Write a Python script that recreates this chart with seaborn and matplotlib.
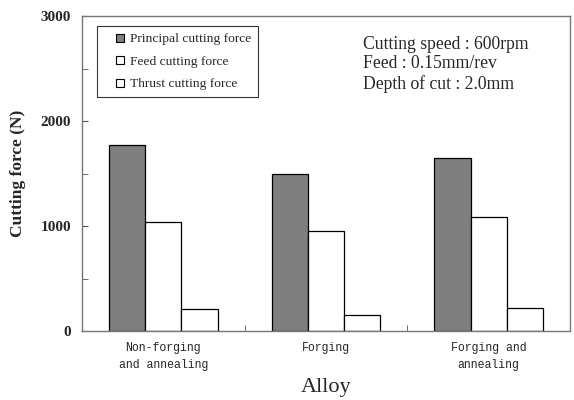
import pandas as pd
import numpy as np
import seaborn as sns
import matplotlib.pyplot as plt
from matplotlib.ticker import MultipleLocator
from matplotlib.lines import Line2D

# data
alloys = ['Non-forging\nand annealing', 'Forging', 'Forging and\nannealing']
series = ['Principal cutting force', 'Feed cutting force', 'Thrust cutting force']
principal = [1770, 1500, 1650]
feed = [1035, 950, 1085]
thrust = [210, 155, 225]
colors = ['#7f7f7f', 'white', 'white']

df = pd.DataFrame({
    'Alloy': alloys * 3,
    'Force': series[0:1] * 3 + series[1:2] * 3 + series[2:3] * 3,
    'Value': principal + feed + thrust,
})

sns.set_style('white')
plt.rcParams['font.family'] = ['Liberation Serif', 'DejaVu Serif']

fig = plt.figure(figsize=(5.74, 4.0), dpi=100)
ax = fig.add_axes([0.143, 0.172, 0.85, 0.788])

sns.barplot(data=df, x='Alloy', y='Value', hue='Force', order=alloys, hue_order=series,
            palette=colors, edgecolor='black', linewidth=0.9,
            width=0.667, gap=0, ax=ax, errorbar=None, legend=False)

ax.set_ylim(0, 3000)
ax.set_xlim(-0.5, 2.5)
ax.yaxis.set_major_locator(MultipleLocator(1000))
ax.yaxis.set_minor_locator(MultipleLocator(500))
ax.set_xticks([0.5, 1.5], minor=True)
ax.tick_params(axis='y', which='both', direction='in', left=True, length=4, color='#555555',
               labelsize=11, pad=8)
ax.tick_params(axis='x', which='major', length=0, pad=8)
ax.tick_params(axis='x', which='minor', direction='in', bottom=True, length=4, color='#555555')
for lab in ax.get_yticklabels():
    lab.set_fontweight('bold')
ax.set_xticks(range(3))
ax.set_xticklabels(alloys, family='Liberation Mono', fontsize=8.3, linespacing=1.5)

for sp in ax.spines.values():
    sp.set_color('#777777')
    sp.set_linewidth(1.0)

ax.set_ylabel('Cutting force (N)', fontsize=12.5, fontweight='bold', labelpad=10)
ax.set_xlabel('Alloy', fontsize=16, labelpad=5)

# legend with small square keys like the original
handles = [Line2D([], [], linestyle='none', marker='s', markersize=6,
                  markerfacecolor=c, markeredgecolor='black', markeredgewidth=0.8)
           for c in colors]
leg = ax.legend(handles, series, loc='upper left', bbox_to_anchor=(0.031, 0.968),
                borderaxespad=0, fontsize=9.7, frameon=True, fancybox=False,
                edgecolor='black', handlelength=2.4, handletextpad=-0.5,
                borderpad=0.5, labelspacing=0.75)
leg.get_frame().set_linewidth(0.8)

ax.text(0.576, 0.937, 'Cutting speed : 600rpm\nFeed : 0.15mm/rev\nDepth of cut : 2.0mm',
        transform=ax.transAxes, fontsize=12.7, va='top', ha='left', linespacing=1.19)

plt.savefig('out.png', dpi=100)
